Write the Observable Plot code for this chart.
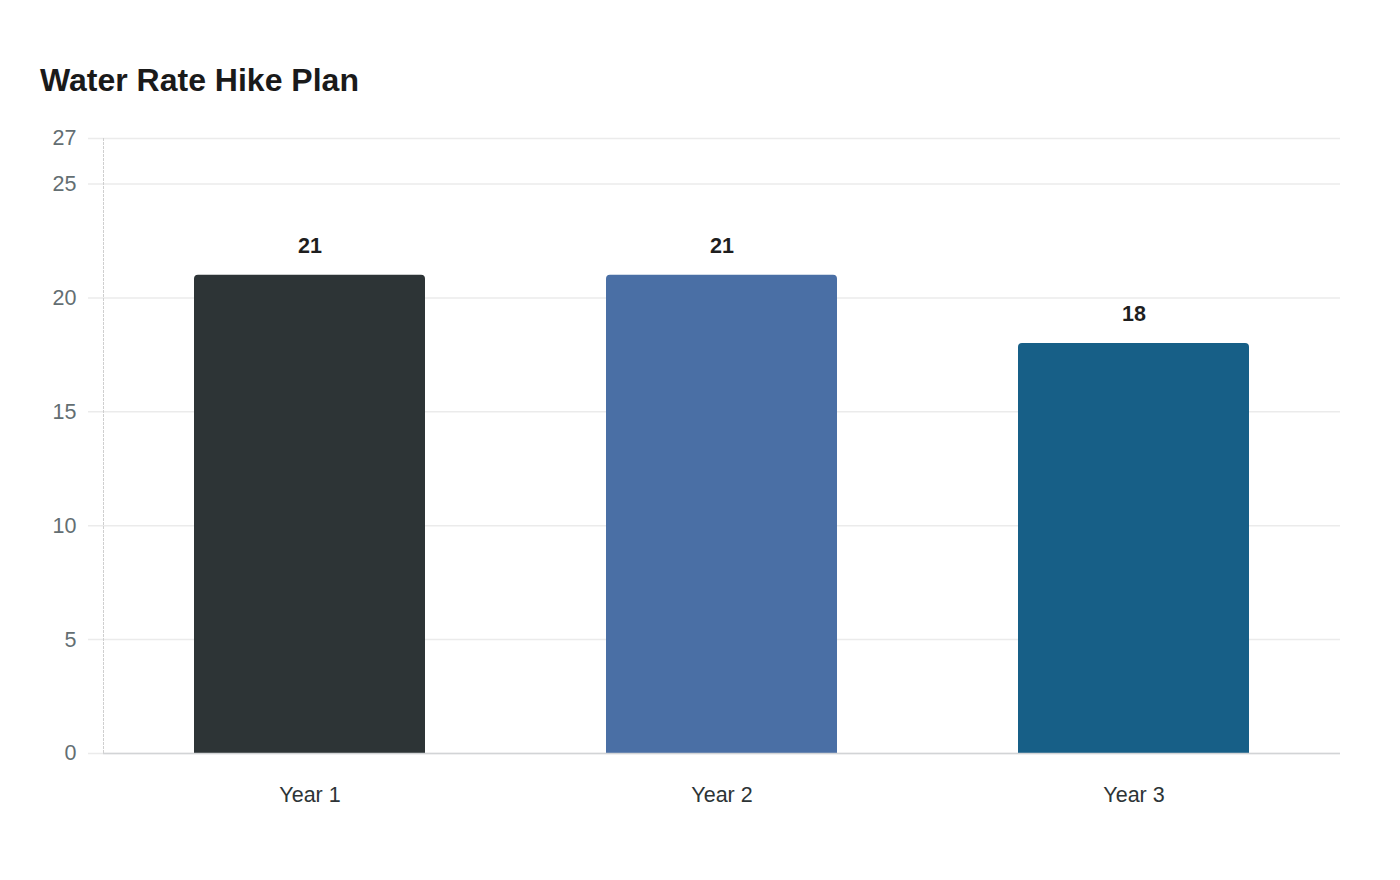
<!DOCTYPE html>
<html>
<head>
<meta charset="utf-8">
<script src="https://cdn.jsdelivr.net/npm/d3@7"></script>
<script src="https://cdn.jsdelivr.net/npm/@observablehq/plot@0.6"></script>
<style>
  html, body { margin: 0; padding: 0; background: #fff; }
  body { width: 1400px; height: 880px; position: relative; overflow: hidden; font-family: "Liberation Sans", Arial, sans-serif; }
  #title { position: absolute; left: 40px; top: 64px; font-size: 32px; line-height: 32px; font-weight: bold; color: #1a1a1a; }
  #chart { position: absolute; left: 0; top: 0; }
</style>
</head>
<body>
<div id="chart"></div>
<div id="title">Water Rate Hike Plan</div>
<script>
const categories = ["Year 1", "Year 2", "Year 3"];
const values = [21, 21, 18];
const barColors = ["#2d3436", "#4a6fa5", "#175f87"];
const yTicks = [0, 5, 10, 15, 20, 25, 27];

const data = categories.map((c, i) => ({category: c, value: values[i], color: barColors[i]}));

const chart = Plot.plot({
  width: 1400,
  height: 880,
  marginTop: 138,
  marginBottom: 127,
  marginLeft: 103,
  marginRight: 60,
  style: {fontFamily: "Liberation Sans, Arial, sans-serif", background: "#fff"},
  x: {domain: categories, paddingInner: 0.44, paddingOuter: 0.22, axis: null},
  y: {domain: [0, 27], axis: null},
  marks: [
    Plot.ruleY(yTicks, {y: d => d, insetLeft: -15, stroke: "#ebebeb", strokeWidth: 1.5}),
    Plot.frame({anchor: "left", stroke: "#cfcfcf", strokeDasharray: "2,2"}),
    Plot.barY(data, {x: "category", y: "value", fill: "color", rx1y1: 4, rx2y1: 4}),
    Plot.ruleY([0], {stroke: "#d2d4d6", strokeWidth: 1.5}),
    Plot.text(data, {x: "category", y: "value", text: d => String(d.value), dy: -29, fontSize: 21.5, fontWeight: "bold", fill: "#1e1e1e"}),
    Plot.text(yTicks, {y: d => d, text: d => String(d), frameAnchor: "left", dx: -27, textAnchor: "end", fontSize: 21.5, fill: "#636e72"}),
    Plot.text(categories, {x: d => d, text: d => d, frameAnchor: "bottom", dy: 48, fontSize: 21.5, fill: "#2d3436"})
  ]
});
document.getElementById("chart").appendChild(chart);
</script>
</body>
</html>
